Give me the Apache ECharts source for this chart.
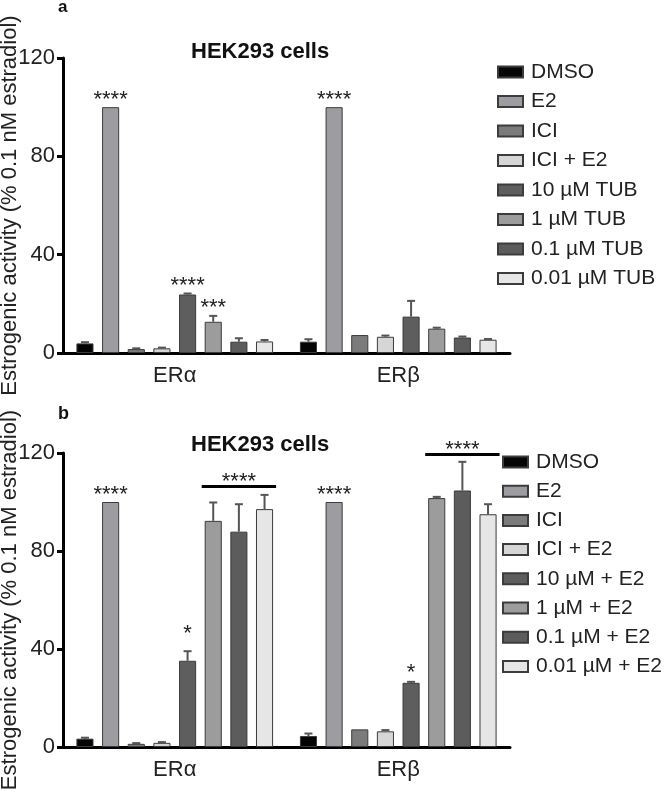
<!DOCTYPE html>
<html>
<head>
<meta charset="utf-8">
<script src="https://cdn.jsdelivr.net/npm/echarts@6/dist/echarts.min.js"></script>
<style>
  html, body { margin: 0; padding: 0; background: #fff; }
  #chart { width: 666px; height: 795px; }
</style>
</head>
<body>
<div id="chart"></div>
<script>
// receptor groups on the x axis
const receptors = ["ERα", "ERβ"];
const yTicks = [0, 40, 80, 120];

// panel a: treatments alone
const namesA = ["DMSO", "E2", "ICI", "ICI + E2", "10 µM TUB", "1 µM TUB", "0.1 µM TUB", "0.01 µM TUB"];
const valuesA = [[3.9, 4.6], [100, 100], [1.6, 7.3], [1.9, 6.6], [23.8, 14.8], [12.7, 9.9], [4.6, 6.3], [4.7, 5.4]];
const errorsA = [[0.5, 1.0], [0, 0], [0.3, 0], [0.3, 0.5], [0.4, 6.4], [2.4, 0.4], [1.4, 0.4], [0.6, 0.3]];
// [receptor, bar, label, y]
const starsA = [[0, 1, "****", 101.5], [0, 4, "****", 25.6], [0, 5, "***", 16.8], [1, 1, "****", 101.5]];

// panel b: treatments combined with E2
const namesB = ["DMSO", "E2", "ICI", "ICI + E2", "10 µM + E2", "1 µM + E2", "0.1 µM + E2", "0.01 µM + E2"];
const valuesB = [[3.4, 4.5], [100, 100], [1.3, 7.2], [1.7, 6.4], [35.2, 26.2], [92.3, 101.6], [87.9, 104.7], [97.1, 95.0]];
const errorsB = [[0.4, 1.0], [0, 0], [0.3, 0], [0.3, 0.5], [3.9, 0.4], [7.5, 0.5], [11.2, 11.7], [5.8, 4.1]];
const starsB = [[0, 1, "****", 101.3], [0, 4, "*", 44.5], [1, 1, "****", 101.3], [1, 4, "*", 28.5]];
// [receptor, first bar, last bar, label, y]
const groupsB = [[0, 5, 7, "****", 106.3], [1, 5, 7, "****", 119.4]];

const colors = ["#050505", "#9d9da1", "#7b7b7b", "#d6d6d6", "#5e5e5e", "#9c9c9c", "#5c5c5c", "#e6e6e6"];

const CAT_GAP = 0.12;
const BAR_GAP = 0.5;
const N = 8;
const font = "'Liberation Sans', Arial, sans-serif";

function barX(api, cat, idx) {
  const band = api.size([1, 0])[0];
  const used = band * (1 - CAT_GAP);
  const bw = used / (N + (N - 1) * BAR_GAP);
  const x = api.coord([cat, 0])[0] - used / 2 + idx * bw * (1 + BAR_GAP) + bw / 2;
  return { x: x, bw: bw };
}

function renderErr(params, api) {
  const cat = api.value(0), idx = api.value(1), val = api.value(2), err = api.value(3);
  if (!err) return;
  const p = barX(api, cat, idx);
  const y0 = api.coord([cat, val])[1];
  const y1 = api.coord([cat, val + err])[1];
  const cap = 4;
  return {
    type: "group",
    children: [
      { type: "line", shape: { x1: p.x, y1: y0, x2: p.x, y2: y1 }, style: { stroke: "#555", lineWidth: 2 } },
      { type: "line", shape: { x1: p.x - cap, y1: y1, x2: p.x + cap, y2: y1 }, style: { stroke: "#555", lineWidth: 2 } }
    ]
  };
}

function starRenderer(list) {
  return function (params, api) {
    const d = list[params.dataIndex];
    const p = barX(api, d[0], d[1]);
    const y = api.coord([d[0], d[3]])[1];
    return {
      type: "text",
      style: {
        x: p.x, y: y + 7, text: d[2], align: "center", verticalAlign: "bottom",
        font: "22px " + font, fill: "#222"
      }
    };
  };
}

function groupRenderer(list) {
  return function (params, api) {
    const d = list[params.dataIndex];
    const a = barX(api, d[0], d[1]);
    const b = barX(api, d[0], d[2]);
    const y = api.coord([d[0], d[4]])[1];
    const x1 = a.x - a.bw / 2 - 3, x2 = b.x + b.bw / 2 + 3;
    return {
      type: "group",
      children: [
        { type: "line", shape: { x1: x1, y1: y, x2: x2, y2: y }, style: { stroke: "#000", lineWidth: 3 } },
        { type: "text", style: { x: (x1 + x2) / 2, y: y + 6, text: d[3], align: "center", verticalAlign: "bottom",
          font: "22px " + font, fill: "#222" } }
      ]
    };
  };
}

function panelSeries(names, values, errors, stars, groups, k) {
  const out = names.map(function (name, i) {
    return {
      name: name,
      type: "bar",
      xAxisIndex: k,
      yAxisIndex: k,
      barCategoryGap: CAT_GAP * 100 + "%",
      barGap: BAR_GAP * 100 + "%",
      itemStyle: { color: colors[i], borderColor: "#3c3c3c", borderWidth: 1 },
      data: values[i]
    };
  });
  const errData = [];
  values.forEach(function (v, i) {
    v.forEach(function (val, c) { errData.push([c, i, val, errors[i][c]]); });
  });
  out.push({ type: "custom", xAxisIndex: k, yAxisIndex: k, z: 3, renderItem: renderErr, data: errData });
  out.push({ type: "custom", xAxisIndex: k, yAxisIndex: k, z: 3, renderItem: starRenderer(stars),
    data: stars.map(function (s) { return [s[0], s[3]]; }) });
  if (groups) {
    out.push({ type: "custom", xAxisIndex: k, yAxisIndex: k, z: 3, renderItem: groupRenderer(groups),
      data: groups.map(function (g) { return [g[0], g[4]]; }) });
  }
  return out;
}

function xAxis(k) {
  return {
    type: "category",
    gridIndex: k,
    data: receptors,
    axisLine: { lineStyle: { color: "#000", width: 3 } },
    axisTick: { alignWithLabel: true, length: 6, lineStyle: { color: "#000", width: 3 } },
    axisLabel: { fontSize: 22, color: "#222", fontFamily: font, margin: 12 }
  };
}

function yAxis(k) {
  return {
    type: "value",
    gridIndex: k,
    min: yTicks[0],
    max: yTicks[yTicks.length - 1],
    interval: yTicks[1] - yTicks[0],
    name: "Estrogenic activity (% 0.1 nM estradiol)",
    nameLocation: "middle",
    nameGap: 42,
    nameMoveOverlap: false,
    nameTextStyle: { fontSize: 22, color: "#222", fontFamily: font },
    axisLine: { show: true, lineStyle: { color: "#000", width: 3 } },
    axisTick: { show: true, length: 6, lineStyle: { color: "#000", width: 3 } },
    axisLabel: { fontSize: 22, color: "#222", fontFamily: font, margin: 8 },
    splitLine: { show: false }
  };
}

function legend(names, left, top, gap) {
  return {
    data: names,
    orient: "vertical",
    left: left,
    top: top,
    padding: 0,
    itemWidth: 25,
    itemHeight: 11,
    itemGap: gap,
    icon: "rect",
    textStyle: { fontSize: 21, color: "#222", fontFamily: font, padding: [0, 0, 0, 3] }
  };
}

const chart = echarts.init(document.getElementById("chart"));
chart.setOption({
  backgroundColor: "#fff",
  animation: false,
  title: [
    { text: "a", left: 53, top: -6, textStyle: { fontSize: 17, fontWeight: "bold", color: "#111", fontFamily: font } },
    { text: "HEK293 cells", left: 186, top: 36, textStyle: { fontSize: 22, fontWeight: "bold", color: "#111", fontFamily: font } },
    { text: "b", left: 53, top: 400, textStyle: { fontSize: 18, fontWeight: "bold", color: "#111", fontFamily: font } },
    { text: "HEK293 cells", left: 186, top: 429, textStyle: { fontSize: 22, fontWeight: "bold", color: "#111", fontFamily: font } }
  ],
  legend: [legend(namesA, 497, 61.5, 8.5), legend(namesB, 502, 451.5, 8.2)],
  grid: [
    { left: 63, top: 58, width: 447, height: 295, outerBoundsMode: "none" },
    { left: 63, top: 453, width: 447, height: 294, outerBoundsMode: "none" }
  ],
  xAxis: [xAxis(0), xAxis(1)],
  yAxis: [yAxis(0), yAxis(1)],
  series: panelSeries(namesA, valuesA, errorsA, starsA, null, 0)
    .concat(panelSeries(namesB, valuesB, errorsB, starsB, groupsB, 1))
});
</script>
</body>
</html>
